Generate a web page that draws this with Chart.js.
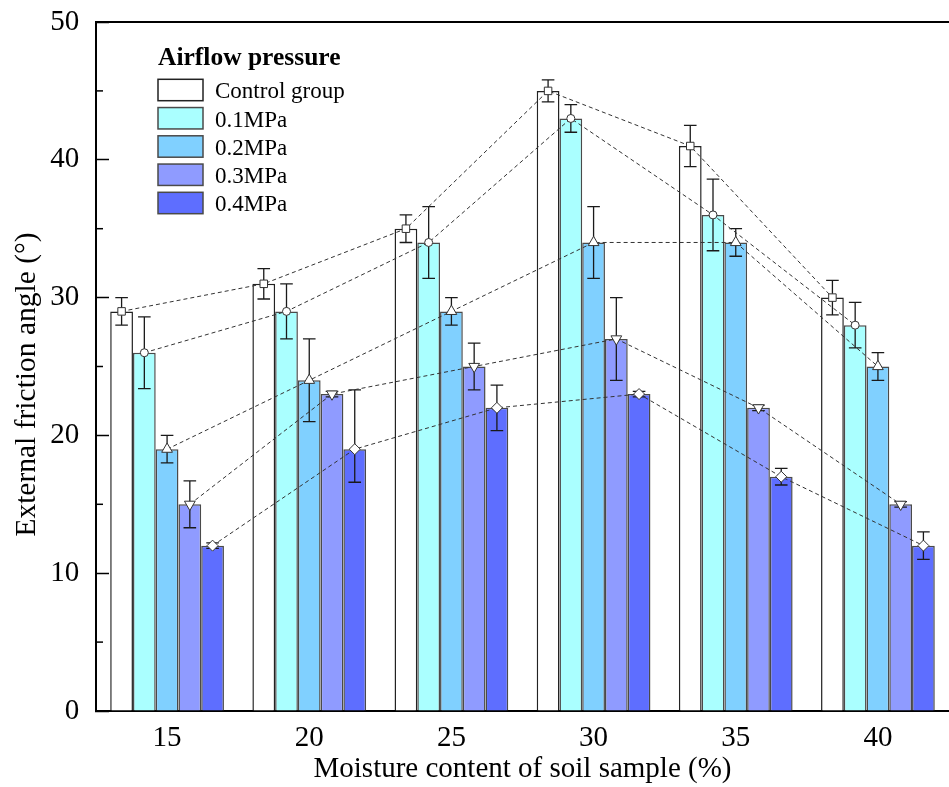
<!DOCTYPE html>
<html>
<head>
<meta charset="utf-8">
<title>External friction angle</title>
<script src="https://cdn.jsdelivr.net/npm/chart.js@4.4.1/dist/chart.umd.min.js"></script>
<style>
    html, body { margin: 0; padding: 0; background: #fff; overflow: hidden; }
    #wrap { width: 949px; height: 787px; }
</style>
</head>
<body>
<div id="wrap"><canvas id="friction-chart"></canvas></div>
<script>
// 数据
const moisture = ['15', '20', '25', '30', '35', '40'];
const seriesNames = ['Control group', '0.1MPa', '0.2MPa', '0.3MPa', '0.4MPa'];
const legendTitle = 'Airflow pressure';
const xTitle = 'Moisture content of soil sample (%)';
const yTitle = 'External friction angle (°)';

const controlGroup = [29, 31, 35, 45, 41, 30];
const p01 = [26, 29, 34, 43, 36, 28];
const p02 = [19, 24, 29, 34, 34, 25];
const p03 = [15, 23, 25, 27, 22, 15];
const p04 = [12, 19, 22, 23, 17, 12];

// 误差（上 / 下）
const controlErr = [1.0, 1.1, 1.0, 0.8, 1.5, 1.25];
const p01Err = [2.6, 2.0, 2.6, 1.0, 2.6, 1.65];
const p02Err = [1.0, 3.0, 1.0, 2.6, 1.0, 1.0];
const p03Err = [1.7, 0.2, 1.7, 3.0, 0.2, 0.2];
const p04ErrUp = [0.2, 4.3, 1.65, 0.2, 0.6, 1.0];
const p04ErrDown = [0.2, 2.4, 1.65, 0.2, 0.6, 1.0];

const yTicks = [0, 10, 20, 30, 40, 50];

const values = [controlGroup, p01, p02, p03, p04];
const errorsUp = [controlErr, p01Err, p02Err, p03Err, p04ErrUp];
const errorsDown = [controlErr, p01Err, p02Err, p03Err, p04ErrDown];
const fills = ['#ffffff', '#aaffff', '#80d0ff', '#8f9bff', '#5e6eff'];
const edges = ['#222222', '#4a4a4a', '#4a4a4a', '#4a4a4a', '#4a4a4a'];
const markers = [
    { style: 'rect', radius: 5.3, rotation: 0 },
    { style: 'circle', radius: 4, rotation: 0 },
    { style: 'triangle', radius: 6.2, rotation: 0 },
    { style: 'triangle', radius: 6.2, rotation: 180 },
    { style: 'rectRot', radius: 5.5, rotation: 0 }
];

const serif = '"Liberation Serif", "Times New Roman", serif';

// 柱状数据集
const barSets = values.map((v, i) => ({
    type: 'bar',
    label: seriesNames[i],
    data: v,
    errUp: errorsUp[i],
    errDown: errorsDown[i],
    backgroundColor: fills[i],
    borderColor: edges[i],
    borderWidth: 1.5,
    categoryPercentage: 0.8,
    barPercentage: 1.0,
    order: 2
}));

// 虚线数据集
const lineSets = values.map((v, i) => ({
    type: 'line',
    label: seriesNames[i] + ' trend',
    data: v,
    linkTo: i,
    borderColor: '#333333',
    borderWidth: 1,
    borderDash: [4, 3],
    fill: false,
    tension: 0,
    pointStyle: markers[i].style,
    pointRadius: markers[i].radius,
    pointRotation: markers[i].rotation,
    pointBackgroundColor: '#ffffff',
    pointBorderColor: '#333333',
    pointBorderWidth: 1,
    order: 1
}));

// 把折线点移到对应柱子的中心
const alignLines = {
    id: 'alignLines',
    afterDatasetsUpdate(chart) {
        chart.data.datasets.forEach((ds, i) => {
            if (ds.type !== 'line') return;
            const meta = chart.getDatasetMeta(i);
            const bars = chart.getDatasetMeta(ds.linkTo).data;
            meta.data.forEach((pt, j) => {
                if (bars[j]) pt.x = bars[j].x;
            });
            meta.dataset._pointsUpdated = false;
            meta.dataset._path = undefined;
        });
    }
};

// 误差棒
const errorBars = {
    id: 'errorBars',
    afterDatasetDraw(chart, args) {
        const ds = chart.data.datasets[args.index];
        if (!ds.errUp) return;
        const ctx = chart.ctx;
        const y = chart.scales.y;
        ctx.save();
        ctx.strokeStyle = '#1a1a1a';
        ctx.lineWidth = 1.3;
        args.meta.data.forEach((bar, j) => {
            const v = ds.data[j];
            const top = y.getPixelForValue(v + ds.errUp[j]);
            const bottom = y.getPixelForValue(v - ds.errDown[j]);
            ctx.beginPath();
            ctx.moveTo(bar.x, top);
            ctx.lineTo(bar.x, bottom);
            ctx.moveTo(bar.x - 6.3, top);
            ctx.lineTo(bar.x + 6.3, top);
            ctx.moveTo(bar.x - 6.3, bottom);
            ctx.lineTo(bar.x + 6.3, bottom);
            ctx.stroke();
        });
        ctx.restore();
    }
};

// 边框、次刻度、y 轴标题、图例
const decorations = {
    id: 'decorations',
    afterDraw(chart) {
        const { ctx, chartArea } = chart;
        const y = chart.scales.y;
        ctx.save();

        // 上边框
        ctx.strokeStyle = '#000';
        ctx.lineWidth = 2;
        ctx.beginPath();
        ctx.moveTo(chartArea.left, chartArea.top);
        ctx.lineTo(chartArea.right, chartArea.top);
        ctx.stroke();

        // 次刻度
        ctx.lineWidth = 1.5;
        const ticks = y.ticks.map(t => t.value);
        for (let k = 0; k < ticks.length - 1; k++) {
            const py = y.getPixelForValue((ticks[k] + ticks[k + 1]) / 2);
            ctx.beginPath();
            ctx.moveTo(chartArea.left, py);
            ctx.lineTo(chartArea.left + 7, py);
            ctx.stroke();
        }

        // y 轴标题
        ctx.fillStyle = '#000';
        ctx.font = '29.5px ' + serif;
        ctx.textAlign = 'center';
        ctx.textBaseline = 'alphabetic';
        ctx.save();
        ctx.translate(chartArea.left - 61, (chartArea.top + chartArea.bottom) / 2 + 18);
        ctx.rotate(-Math.PI / 2);
        ctx.fillText(yTitle, 0, 0);
        ctx.restore();

        // 图例
        const x0 = chartArea.left + 62;
        ctx.textAlign = 'left';
        ctx.font = 'bold 25.5px ' + serif;
        ctx.fillText(legendTitle, x0, chartArea.top + 43);
        ctx.font = '23px ' + serif;
        barSets.forEach((ds, i) => {
            const top = chartArea.top + 57.3 + i * 28.25;
            ctx.fillStyle = ds.backgroundColor;
            ctx.fillRect(x0, top, 45, 21.4);
            ctx.strokeStyle = ds.borderColor;
            ctx.lineWidth = 1.5;
            ctx.strokeRect(x0, top, 45, 21.4);
            ctx.fillStyle = '#000';
            ctx.fillText(ds.label, x0 + 57, top + 19);
        });
        ctx.restore();
    }
};

const ctx = document.getElementById('friction-chart').getContext('2d');
const frictionChart = new Chart(ctx, {
    type: 'bar',
    data: {
        labels: moisture,
        datasets: [...barSets, ...lineSets]
    },
    options: {
        responsive: true,
        maintainAspectRatio: false,
        animation: false,
        events: [],
        layout: {
            autoPadding: false,
            padding: { top: 22, right: 0, bottom: 0, left: 0 }
        },
        scales: {
            x: {
                type: 'category',
                offset: true,
                grid: {
                    display: true,
                    drawOnChartArea: false,
                    drawTicks: true,
                    tickLength: -13,
                    tickColor: '#000',
                    tickWidth: 1.5,
                    offset: false
                },
                border: { display: true, color: '#000', width: 2 },
                ticks: {
                    color: '#000',
                    padding: 22.5,
                    maxRotation: 0,
                    font: { family: serif, size: 29 }
                },
                title: {
                    display: true,
                    text: xTitle,
                    color: '#000',
                    padding: 0,
                    font: { family: serif, size: 29 }
                },
                afterFit(scale) {
                    scale.height = 76;
                    scale.paddingLeft = 0;
                    scale.paddingRight = 0;
                }
            },
            y: {
                min: 0,
                max: 50,
                grid: {
                    display: true,
                    drawOnChartArea: false,
                    drawTicks: true,
                    tickLength: -13,
                    tickColor: '#000',
                    tickWidth: 1.5
                },
                border: { display: true, color: '#000', width: 2 },
                ticks: {
                    stepSize: 10,
                    color: '#000',
                    padding: 29.7,
                    font: { family: serif, size: 29 },
                    callback: v => (yTicks.includes(v) ? String(v) : '')
                },
                afterFit(scale) {
                    scale.width = 96;
                    scale.paddingTop = 0;
                    scale.paddingBottom = 0;
                }
            }
        },
        plugins: {
            legend: { display: false },
            tooltip: { enabled: false }
        }
    },
    plugins: [alignLines, errorBars, decorations]
});
</script>
</body>
</html>
